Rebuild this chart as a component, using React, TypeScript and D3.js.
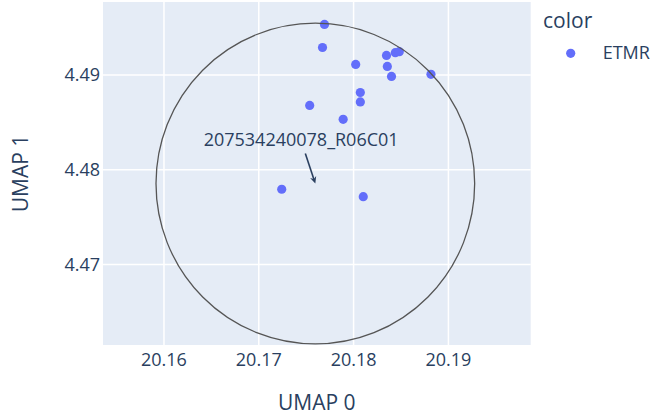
import React from 'react';
import * as d3 from 'd3';

// UMAP coordinates (all samples are ETMR)
const umap0 = [20.17693, 20.17672, 20.18022, 20.18347, 20.1844, 20.18482, 20.18356, 20.184, 20.18816, 20.18071, 20.18071, 20.17537, 20.1789, 20.17242, 20.18102];
const umap1 = [4.49533, 4.4929, 4.49111, 4.49206, 4.49235, 4.49246, 4.4909, 4.48984, 4.49007, 4.48815, 4.48715, 4.48678, 4.48532, 4.47794, 4.47715];
const xTicks = [20.16, 20.17, 20.18, 20.19];
const yTicks = [4.47, 4.48, 4.49];
// circle shape around the sample, in data units
const circleX = [20.15916, 20.19277];
const circleY = [4.46161, 4.49546];
const annotationText = '207534240078_R06C01';
const legendTitle = 'color';
const legendLabel = 'ETMR';

const W = 654;
const H = 418;
const plot = { left: 103, right: 530.7, top: 2, bottom: 345 };
const fontColor = '#2a3f5f';
const font = '"Open Sans", sans-serif';
const markerColor = '#636efa';

export default function App() {
  const x = d3.scaleLinear().domain([20.15357, 20.19868]).range([plot.left, plot.right]);
  const y = d3.scaleLinear().domain([4.4615, 4.4977]).range([plot.bottom, plot.top]);

  const cx = (x(circleX[0]) + x(circleX[1])) / 2;
  const cy = (y(circleY[0]) + y(circleY[1])) / 2;
  const rx = (x(circleX[1]) - x(circleX[0])) / 2;
  const ry = (y(circleY[0]) - y(circleY[1])) / 2;

  // arrow from tail to head (the circle centre)
  const tail = [cx - 10, cy - 30];
  const ang = Math.atan2(cy - tail[1], cx - tail[0]);
  const hl = 7;
  const hw = 3.2;
  const headPts = [
    [cx, cy],
    [cx - hl * Math.cos(ang) + hw * Math.sin(ang), cy - hl * Math.sin(ang) - hw * Math.cos(ang)],
    [cx - hl * Math.cos(ang) * 0.7, cy - hl * Math.sin(ang) * 0.7],
    [cx - hl * Math.cos(ang) - hw * Math.sin(ang), cy - hl * Math.sin(ang) + hw * Math.cos(ang)],
  ];

  return (
    <svg width={W} height={H} style={{ position: 'absolute', left: 0, top: 0, background: '#fff' }} fontFamily={font}>
      <rect x={plot.left} y={plot.top} width={plot.right - plot.left} height={plot.bottom - plot.top} fill="#e5ecf6" />
      {xTicks.map(t => (
        <line key={'gx' + t} x1={x(t)} x2={x(t)} y1={plot.top} y2={plot.bottom} stroke="#fff" strokeWidth={1.5} />
      ))}
      {yTicks.map(t => (
        <line key={'gy' + t} x1={plot.left} x2={plot.right} y1={y(t)} y2={y(t)} stroke="#fff" strokeWidth={1.5} />
      ))}
      {xTicks.map(t => (
        <text key={'tx' + t} x={x(t)} y={366} fontSize={18} fill={fontColor} textAnchor="middle">
          {d3.format('.2f')(t)}
        </text>
      ))}
      {yTicks.map(t => (
        <text key={'ty' + t} x={100} y={y(t)} dy="0.36em" fontSize={18} fill={fontColor} textAnchor="end">
          {d3.format('.2f')(t)}
        </text>
      ))}
      <text x={(plot.left + plot.right) / 2} y={410} fontSize={21} fill={fontColor} textAnchor="middle">UMAP 0</text>
      <text transform={`translate(28,${(plot.top + plot.bottom) / 2}) rotate(-90)`} fontSize={21} fill={fontColor} textAnchor="middle">UMAP 1</text>

      <g clipPath="url(#plotclip)">
        {umap0.map((v, i) => (
          <circle key={i} cx={x(v)} cy={y(umap1[i])} r={4.6} fill={markerColor} />
        ))}
      </g>
      <defs>
        <clipPath id="plotclip">
          <rect x={plot.left} y={plot.top} width={plot.right - plot.left} height={plot.bottom - plot.top} />
        </clipPath>
      </defs>

      <ellipse cx={cx} cy={cy} rx={rx} ry={ry} fill="none" stroke="#555" strokeWidth={1.3} />

      <line x1={tail[0]} y1={tail[1]} x2={cx - hl * 0.7 * Math.cos(ang)} y2={cy - hl * 0.7 * Math.sin(ang)} stroke={fontColor} strokeWidth={1.6} />
      <polygon points={headPts.map(p => p.join(',')).join(' ')} fill={fontColor} />
      <text x={cx - 14.2} y={cy - 37.8} fontSize={18} fill={fontColor} textAnchor="middle">{annotationText}</text>

      <text x={543} y={28} fontSize={21} fill={fontColor}>{legendTitle}</text>
      <circle cx={570.7} cy={53.3} r={4.6} fill={markerColor} />
      <text x={602.7} y={58.5} fontSize={18} fill={fontColor}>{legendLabel}</text>
    </svg>
  );
}
